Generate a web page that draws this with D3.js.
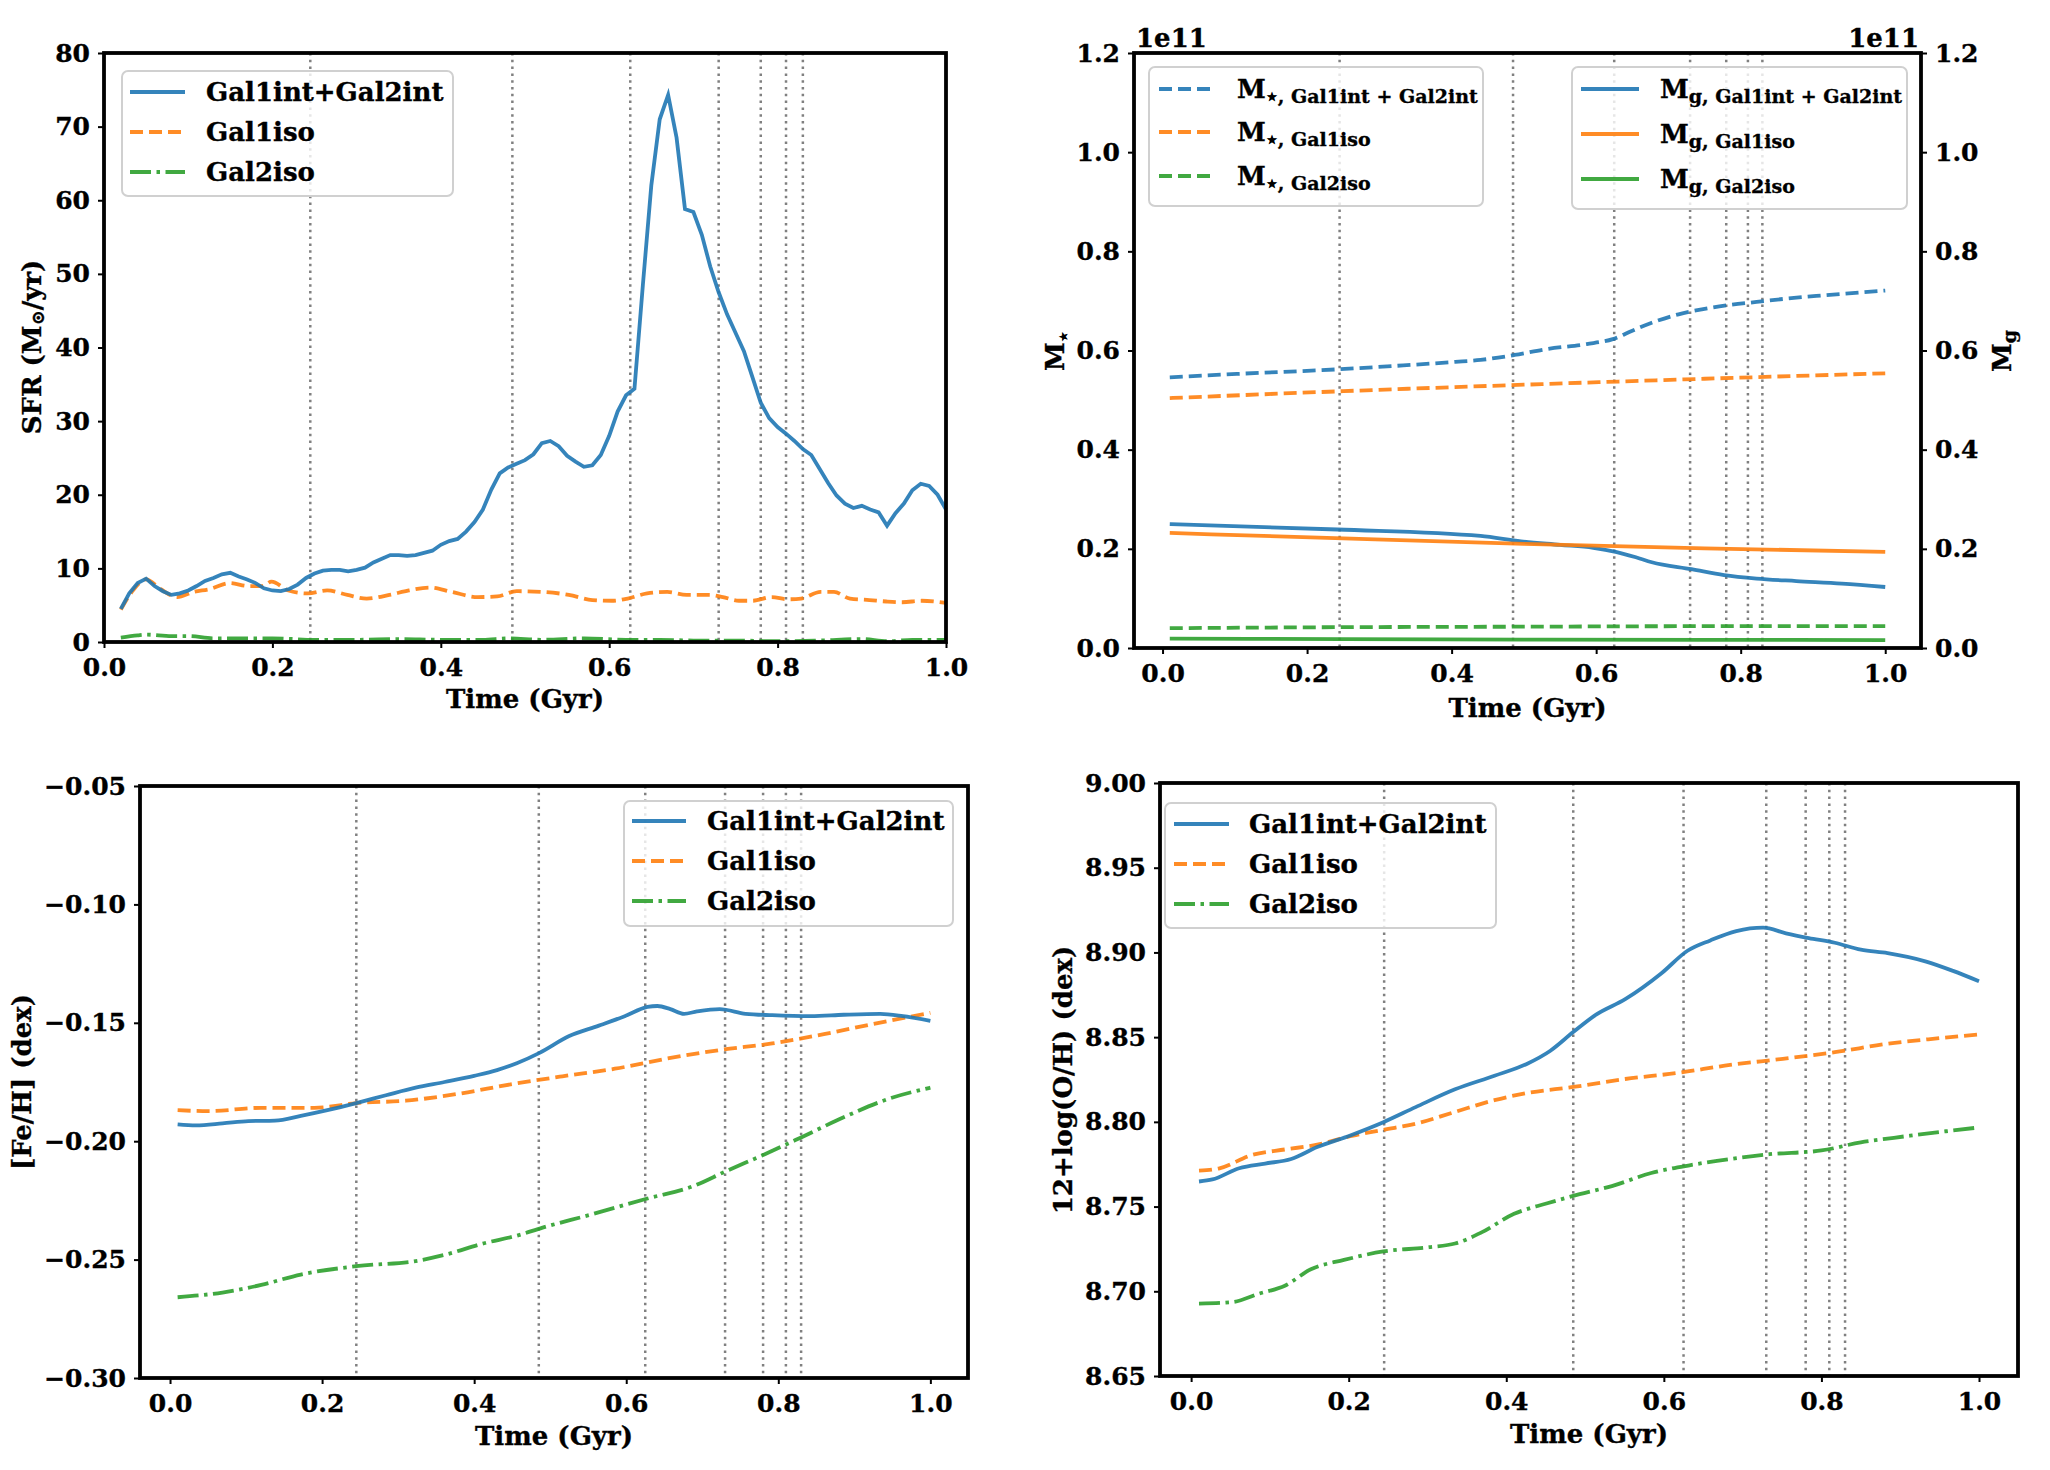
<!DOCTYPE html>
<html>
<head>
<meta charset="utf-8">
<script src="https://cdn.jsdelivr.net/npm/d3@7"></script>
<style>
  body { margin: 0; background: #fff; }
  svg text { font-family: 'DejaVu Serif', serif; font-weight: bold; stroke: #000; stroke-width: 0.35px; }
</style>
</head>
<body>
<svg id="fig" width="2050" height="1470"></svg>
<script>
// ---- data ----
const xTicks = [0, 0.2, 0.4, 0.6, 0.8, 1.0];
const vlineTimes = [0.245, 0.485, 0.625, 0.73, 0.78, 0.81, 0.83];

// SFR panel
const sfrTicks = [0, 10, 20, 30, 40, 50, 60, 70, 80];
const sfrIntT = [0.02,0.03,0.04,0.05,0.06,0.07,0.08,0.09,0.10,0.11,0.12,0.13,0.14,0.15,0.16,0.17,0.18,0.19,0.20,
  0.21,0.22,0.23,0.24,0.25,0.26,0.27,0.28,0.29,0.30,0.31,0.32,0.33,0.34,0.35,0.36,0.37,0.38,0.39,0.40,
  0.41,0.42,0.43,0.44,0.45,0.46,0.47,0.48,0.49,0.50,0.51,0.52,0.53,0.54,0.55,0.56,0.57,0.58,0.59,0.60,
  0.61,0.62,0.63,0.64,0.65,0.66,0.67,0.68,0.69,0.70,0.71,0.72,0.73,0.74,0.75,0.76,0.77,0.78,0.79,0.80,
  0.81,0.82,0.83,0.84,0.85,0.86,0.87,0.88,0.89,0.90,0.91,0.92,0.93,0.94,0.95,0.96,0.97,0.98,0.99,1.00];
const sfrInt = [4.5,6.6,8.0,8.6,7.6,6.9,6.4,6.6,7.0,7.6,8.3,8.7,9.2,9.4,8.9,8.5,8.0,7.3,7.0,
  6.9,7.2,7.8,8.7,9.3,9.7,9.8,9.8,9.6,9.8,10.1,10.8,11.3,11.8,11.8,11.7,11.8,12.1,12.4,13.2,
  13.7,14.0,15.0,16.3,18.0,20.7,22.9,23.7,24.2,24.7,25.5,27.0,27.3,26.6,25.3,24.5,23.8,24.0,25.4,28.0,
  31.3,33.5,34.4,48.5,62.0,71.0,74.3,68.5,58.8,58.4,55.3,51.0,47.5,44.5,42.0,39.5,36.0,32.5,30.4,29.2,
  28.3,27.3,26.2,25.4,23.5,21.6,19.9,18.8,18.2,18.5,18.0,17.6,15.8,17.5,18.8,20.6,21.5,21.2,20.0,18.0];
const sfrGal1isoT = [0.02,0.033,0.05,0.067,0.087,0.106,0.126,0.149,0.172,0.188,0.199,0.219,0.242,0.265,0.289,0.312,
  0.339,0.362,0.387,0.413,0.444,0.467,0.49,0.521,0.552,0.58,0.603,0.622,0.645,0.669,0.692,0.719,0.735,0.754,
  0.77,0.793,0.812,0.828,0.851,0.867,0.886,0.909,0.929,0.948,0.971,1.0];
const sfrGal1iso = [4.4,6.8,8.5,7.2,6.1,6.8,7.2,8.0,7.6,7.6,8.2,7.0,6.6,7.0,6.4,5.9,
  6.4,7.0,7.4,6.8,6.1,6.2,6.9,6.8,6.4,5.7,5.6,5.9,6.6,6.8,6.4,6.4,6.1,5.6,
  5.6,6.1,5.8,5.9,6.8,6.8,5.9,5.7,5.5,5.4,5.6,5.3];
const sfrGal2isoT = [0.02,0.04,0.05,0.08,0.10,0.13,0.16,0.20,0.25,0.30,0.35,0.40,0.45,0.48,0.52,0.57,0.62,0.66,
  0.70,0.75,0.80,0.85,0.90,0.93,0.96,1.0];
const sfrGal2iso = [0.6,0.9,1.0,0.8,0.8,0.5,0.5,0.5,0.3,0.3,0.4,0.3,0.3,0.5,0.3,0.5,0.3,0.3,
  0.2,0.2,0.1,0.2,0.4,0.1,0.3,0.3];

// mass panel (units of 1e11 Msun)
const massTicks = [0, 0.2, 0.4, 0.6, 0.8, 1.0, 1.2];
const mStarIntT = [0.01,0.106,0.242,0.333,0.405,0.44,0.487,0.532,0.587,0.623,0.65,0.677,0.714,0.75,0.786,0.822,0.859,0.913,1.0];
const mStarInt = [0.546,0.553,0.562,0.570,0.577,0.581,0.591,0.603,0.613,0.623,0.640,0.656,0.673,0.684,0.692,0.698,0.704,0.711,0.721];
const mIsoT = [0.01, 0.25, 0.5, 0.75, 1.0];
const mStarGal1iso = [0.504, 0.518, 0.531, 0.543, 0.554];
const mStarGal2iso = [0.040, 0.042, 0.043, 0.044, 0.044];
const mGasIntT = [0.01,0.242,0.44,0.496,0.55,0.596,0.627,0.655,0.677,0.732,0.777,0.822,0.877,0.94,1.0];
const mGasInt = [0.250,0.239,0.226,0.215,0.208,0.202,0.194,0.183,0.173,0.159,0.147,0.140,0.135,0.130,0.123];
const mGasGal1iso = [0.232, 0.221, 0.210, 0.201, 0.194];
const mGasGal2iso = [0.019, 0.018, 0.017, 0.0165, 0.016];

// [Fe/H] panel
const feTicks = [-0.30, -0.25, -0.20, -0.15, -0.10, -0.05];
const feIntT = [0.01,0.034,0.069,0.103,0.138,0.172,0.207,0.245,0.284,0.323,0.361,0.40,0.43,0.456,0.486,0.525,
  0.564,0.598,0.628,0.641,0.658,0.676,0.693,0.723,0.757,0.792,0.843,0.886,0.934,0.964,1.0];
const feInt = [-0.1929,-0.1933,-0.1925,-0.1915,-0.1913,-0.1893,-0.1869,-0.1839,-0.1806,-0.1774,-0.1750,-0.1724,
  -0.1700,-0.1671,-0.1627,-0.1556,-0.1512,-0.1472,-0.1433,-0.1429,-0.1442,-0.1462,-0.1452,-0.1442,-0.1462,
  -0.1468,-0.1472,-0.1466,-0.1462,-0.1472,-0.1492];
const feGal1isoT = [0.01,0.05,0.12,0.19,0.245,0.31,0.379,0.448,0.516,0.585,0.654,0.723,0.792,0.86,0.929,1.0];
const feGal1iso = [-0.1869,-0.1873,-0.1859,-0.1859,-0.1839,-0.1829,-0.1800,-0.1760,-0.1726,-0.1694,-0.1651,
  -0.1615,-0.1587,-0.1548,-0.1502,-0.1458];
const feGal2isoT = [0.01,0.069,0.12,0.172,0.245,0.327,0.361,0.413,0.456,0.49,0.551,0.628,0.688,0.731,0.783,
  0.83,0.886,0.947,1.0];
const feGal2iso = [-0.2659,-0.2639,-0.2607,-0.2563,-0.2528,-0.2504,-0.2480,-0.2431,-0.2399,-0.2365,-0.2312,
  -0.2242,-0.2190,-0.2127,-0.2054,-0.1984,-0.1899,-0.1819,-0.1774];

// 12+log(O/H) panel
const ohTicks = [8.65, 8.70, 8.75, 8.80, 8.85, 8.90, 8.95, 9.00];
const ohIntT = [0.01,0.027,0.061,0.094,0.127,0.16,0.202,0.244,0.285,0.335,0.385,0.426,0.456,0.485,0.514,0.551,
  0.597,0.63,0.659,0.692,0.726,0.755,0.784,0.817,0.85,0.884,0.933,0.967,1.0];
const ohInt = [8.7648,8.7660,8.7726,8.7754,8.7781,8.7851,8.7920,8.7998,8.8087,8.8192,8.8272,8.8342,8.8420,
  8.8530,8.8633,8.8724,8.8877,8.9010,8.9071,8.9126,8.9146,8.9113,8.9085,8.9057,8.9016,8.8996,8.8946,8.8891,8.8830];
const ohGal1isoT = [0.01,0.036,0.077,0.119,0.16,0.202,0.244,0.285,0.335,0.385,0.426,0.485,0.551,0.618,0.684,
  0.751,0.817,0.884,0.95,1.0];
const ohGal1iso = [8.7712,8.7726,8.7804,8.7837,8.7865,8.7915,8.7953,8.7989,8.8059,8.8128,8.8170,8.8206,8.8253,
  8.8289,8.8336,8.8372,8.8411,8.8461,8.8494,8.8516];
const ohGal2isoT = [0.01,0.052,0.086,0.119,0.152,0.194,0.244,0.302,0.335,0.368,0.41,0.451,0.493,0.534,0.584,
  0.634,0.684,0.734,0.80,0.85,0.892,0.95,1.0];
const ohGal2iso = [8.6927,8.6936,8.6986,8.7033,8.7130,8.7185,8.7235,8.7260,8.7282,8.7346,8.7457,8.7518,8.7573,
  8.7621,8.7698,8.7745,8.7781,8.7809,8.7831,8.7879,8.7906,8.7940,8.7967];

// ---- styling ----
const BLUE = '#1f77b4', ORANGE = '#ff7f0e', GREEN = '#2ca02c';
const SOLID = null, DASHED = '13,6', DASHDOT = '21,5.5,3.5,5.5';
const LW = 3.8;
const FS = 26;        // labels, legend text
const TICK_FS = 25;   // tick labels
const padX = [-0.0395, 1.0495];   // matplotlib default margins for t in [0.01, 1]

const svg = d3.select('#fig');

function makePanel(box, xDomain, yDomain) {
    const x = d3.scaleLinear().domain(xDomain).range([box.left, box.right]);
    const y = d3.scaleLinear().domain(yDomain).range([box.bottom, box.top]);
    return { box, x, y };
}

function styleAxis(g) {
    g.select('.domain').remove();
    g.attr('font-size', TICK_FS).attr('font-family', "'DejaVu Serif', serif").attr('font-weight', 'bold');
    g.selectAll('line').attr('stroke', '#000').attr('stroke-width', 2);
    g.selectAll('text').attr('fill', '#000');
}

function drawVlines(p) {
    svg.append('g').selectAll('line').data(vlineTimes).join('line')
        .attr('x1', d => p.x(d)).attr('x2', d => p.x(d))
        .attr('y1', p.box.top).attr('y2', p.box.bottom)
        .attr('stroke', '#808080').attr('stroke-width', 2.5)
        .attr('stroke-dasharray', '2.5,4.3');
}

function drawSeries(p, ts, vs, color, dash, curve) {
    const pts = ts.map((t, i) => [t, vs[i]]);
    const line = d3.line().x(d => p.x(d[0])).y(d => p.y(d[1])).curve(curve || d3.curveMonotoneX);
    svg.append('path').datum(pts)
        .attr('d', line)
        .attr('fill', 'none')
        .attr('stroke', color)
        .attr('stroke-width', LW)
        .attr('stroke-opacity', 0.9)
        .attr('stroke-dasharray', dash);
}

function drawFrame(p, yTicks, yFmt, rightAxis) {
    const b = p.box;
    svg.append('rect')
        .attr('x', b.left).attr('y', b.top)
        .attr('width', b.right - b.left).attr('height', b.bottom - b.top)
        .attr('fill', 'none').attr('stroke', '#000').attr('stroke-width', 3.8);

    svg.append('g').attr('transform', `translate(0,${b.bottom})`)
        .call(d3.axisBottom(p.x).tickValues(xTicks).tickFormat(d3.format('.1f'))
            .tickSize(6).tickPadding(10).tickSizeOuter(0))
        .call(styleAxis);

    svg.append('g').attr('transform', `translate(${b.left},0)`)
        .call(d3.axisLeft(p.y).tickValues(yTicks).tickFormat(yFmt)
            .tickSize(6).tickPadding(8).tickSizeOuter(0))
        .call(styleAxis);

    if (rightAxis) {
        svg.append('g').attr('transform', `translate(${b.right},0)`)
            .call(d3.axisRight(p.y).tickValues(yTicks).tickFormat(yFmt)
                .tickSize(6).tickPadding(8).tickSizeOuter(0))
            .call(styleAxis);
    }
}

function xLabel(p, baseline) {
    svg.append('text')
        .attr('x', (p.box.left + p.box.right) / 2).attr('y', baseline)
        .attr('text-anchor', 'middle').attr('font-size', FS)
        .text('Time (Gyr)');
}

function yLabel(cx, cy, parts) {
    const t = svg.append('text')
        .attr('transform', `translate(${cx},${cy}) rotate(-90)`)
        .attr('text-anchor', 'middle').attr('font-size', FS)
        .attr('dy', '0.35em');
    parts.forEach(pt => {
        const s = t.append('tspan').text(pt.text);
        if (pt.size) s.attr('font-size', pt.size);
        if (pt.dy) s.attr('dy', pt.dy);
    });
}

// legend: rows of {color, dash, main, sub}
function drawLegend(b, rows) {
    svg.append('rect')
        .attr('x', b.x).attr('y', b.y).attr('width', b.w).attr('height', b.h)
        .attr('rx', 6)
        .attr('fill', '#fff').attr('fill-opacity', 0.8)
        .attr('stroke', '#d0d0d0').attr('stroke-width', 2);
    rows.forEach((r, i) => {
        const yy = b.rows[i];
        svg.append('line')
            .attr('x1', b.h0).attr('x2', b.h1).attr('y1', yy).attr('y2', yy)
            .attr('stroke', r.color).attr('stroke-opacity', 0.9)
            .attr('stroke-width', LW).attr('stroke-dasharray', r.dash);
        const t = svg.append('text').attr('x', b.tx).attr('y', yy + 9).attr('font-size', FS);
        t.append('tspan').text(r.main);
        if (r.sub) t.append('tspan').attr('font-size', 19).attr('dy', 5).text(r.sub);
    });
}

const fmt1 = d3.format('.1f');
const fmt2 = d => d3.format('.2f')(d).replace('-', '\u2212');

// ---- panel 1: SFR ----
const p1 = makePanel({ left: 104, right: 946, top: 53, bottom: 642 }, [0, 1], [0, 80]);
drawVlines(p1);
drawSeries(p1, sfrGal2isoT, sfrGal2iso, GREEN, DASHDOT);
drawSeries(p1, sfrGal1isoT, sfrGal1iso, ORANGE, DASHED);
drawSeries(p1, sfrIntT, sfrInt, BLUE, SOLID, d3.curveLinear);
drawFrame(p1, sfrTicks, d3.format('d'), false);
xLabel(p1, 708);
yLabel(32, 347, [{ text: 'SFR (M' }, { text: '\u2299', size: 18, dy: 3 }, { text: '/yr)', dy: -3 }]);
drawLegend({ x: 122, y: 71, w: 331, h: 125, h0: 130, h1: 185, tx: 206, rows: [92, 132, 172] }, [
    { color: BLUE, dash: SOLID, main: 'Gal1int+Gal2int' },
    { color: ORANGE, dash: DASHED, main: 'Gal1iso' },
    { color: GREEN, dash: DASHDOT, main: 'Gal2iso' }
]);

// ---- panel 2: stellar and gas mass ----
const p2 = makePanel({ left: 1134, right: 1921, top: 53, bottom: 648 }, padX, [0, 1.2]);
drawVlines(p2);
drawSeries(p2, mStarIntT, mStarInt, BLUE, DASHED);
drawSeries(p2, mIsoT, mStarGal1iso, ORANGE, DASHED);
drawSeries(p2, mIsoT, mStarGal2iso, GREEN, DASHED);
drawSeries(p2, mGasIntT, mGasInt, BLUE, SOLID);
drawSeries(p2, mIsoT, mGasGal1iso, ORANGE, SOLID);
drawSeries(p2, mIsoT, mGasGal2iso, GREEN, SOLID);
drawFrame(p2, massTicks, fmt1, true);
xLabel(p2, 717);
yLabel(1055, 351, [{ text: 'M' }, { text: '\u22c6', size: 17, dy: 5 }]);
yLabel(2002, 351, [{ text: 'M' }, { text: 'g', size: 19, dy: 5 }]);
svg.append('text').attr('x', 1136).attr('y', 47).attr('font-size', FS).text('1e11');
svg.append('text').attr('x', 1919).attr('y', 47).attr('font-size', FS).attr('text-anchor', 'end').text('1e11');
drawLegend({ x: 1149, y: 67, w: 334, h: 139, h0: 1159, h1: 1212, tx: 1237, rows: [89, 132, 176] }, [
    { color: BLUE, dash: DASHED, main: 'M', sub: '\u22c6, Gal1int + Gal2int' },
    { color: ORANGE, dash: DASHED, main: 'M', sub: '\u22c6, Gal1iso' },
    { color: GREEN, dash: DASHED, main: 'M', sub: '\u22c6, Gal2iso' }
]);
drawLegend({ x: 1572, y: 67, w: 335, h: 142, h0: 1581, h1: 1639, tx: 1660, rows: [89, 134, 179] }, [
    { color: BLUE, dash: SOLID, main: 'M', sub: 'g, Gal1int + Gal2int' },
    { color: ORANGE, dash: SOLID, main: 'M', sub: 'g, Gal1iso' },
    { color: GREEN, dash: SOLID, main: 'M', sub: 'g, Gal2iso' }
]);

// ---- panel 3: [Fe/H] ----
const p3 = makePanel({ left: 140, right: 968, top: 786, bottom: 1378 }, padX, [-0.30, -0.05]);
drawVlines(p3);
drawSeries(p3, feGal2isoT, feGal2iso, GREEN, DASHDOT);
drawSeries(p3, feGal1isoT, feGal1iso, ORANGE, DASHED);
drawSeries(p3, feIntT, feInt, BLUE, SOLID);
drawFrame(p3, feTicks, fmt2, false);
xLabel(p3, 1445);
yLabel(22, 1082, [{ text: '[Fe/H] (dex)' }]);
drawLegend({ x: 624, y: 801, w: 329, h: 125, h0: 632, h1: 686, tx: 707, rows: [821, 861, 901] }, [
    { color: BLUE, dash: SOLID, main: 'Gal1int+Gal2int' },
    { color: ORANGE, dash: DASHED, main: 'Gal1iso' },
    { color: GREEN, dash: DASHDOT, main: 'Gal2iso' }
]);

// ---- panel 4: 12+log(O/H) ----
const p4 = makePanel({ left: 1160, right: 2018, top: 783, bottom: 1376 }, padX, [8.65, 9.00]);
drawVlines(p4);
drawSeries(p4, ohGal2isoT, ohGal2iso, GREEN, DASHDOT);
drawSeries(p4, ohGal1isoT, ohGal1iso, ORANGE, DASHED);
drawSeries(p4, ohIntT, ohInt, BLUE, SOLID);
drawFrame(p4, ohTicks, fmt2, false);
xLabel(p4, 1443);
yLabel(1063, 1080, [{ text: '12+log(O/H) (dex)' }]);
drawLegend({ x: 1165, y: 803, w: 331, h: 125, h0: 1174, h1: 1229, tx: 1249, rows: [824, 864, 904] }, [
    { color: BLUE, dash: SOLID, main: 'Gal1int+Gal2int' },
    { color: ORANGE, dash: DASHED, main: 'Gal1iso' },
    { color: GREEN, dash: DASHDOT, main: 'Gal2iso' }
]);
</script>
</body>
</html>
